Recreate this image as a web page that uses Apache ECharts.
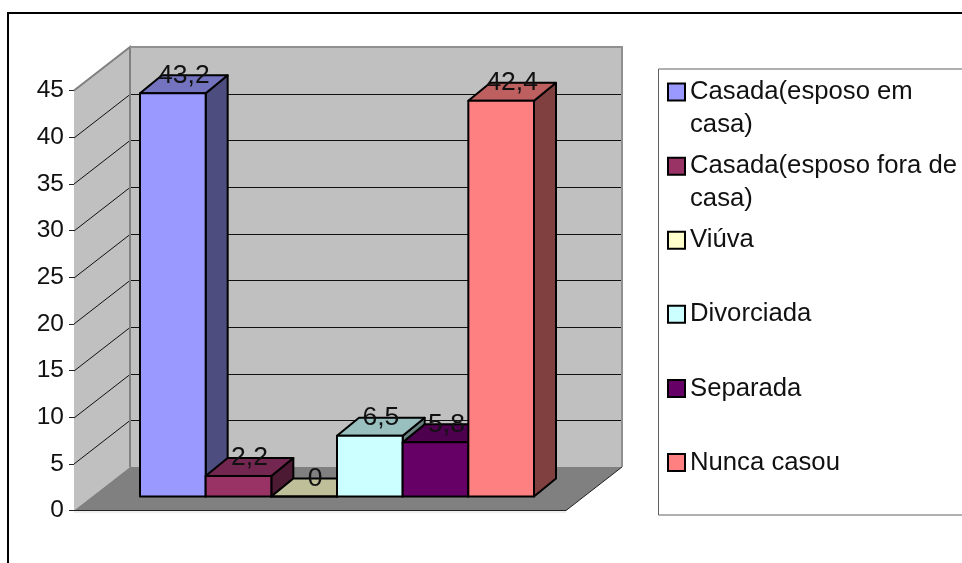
<!DOCTYPE html>
<html>
<head>
<meta charset="utf-8">
<style>
  html, body { margin: 0; padding: 0; background: #fff; }
  #chart { width: 962px; height: 563px; }
</style>
<script src="https://cdn.jsdelivr.net/npm/echarts@6/dist/echarts.min.js"></script>
</head>
<body>
<div id="chart"></div>
<script>
const categories = [
  'Casada(esposo em\ncasa)',
  'Casada(esposo fora de\ncasa)',
  'Viúva',
  'Divorciada',
  'Separada',
  'Nunca casou'
];
const values = [43.2, 2.2, 0, 6.5, 5.8, 42.4];
const colors = ['#9999FF', '#993366', '#FFFFCC', '#CCFFFF', '#660066', '#FF8080'];
const topColors = ['#7373BF', '#732650', '#BFBF99', '#99BFBF', '#4D004D', '#BF6060'];
const sideColors = ['#4D4D80', '#4D1A33', '#808066', '#668080', '#330033', '#804040'];
const yTicks = [5, 10, 15, 20, 25, 30, 35, 40];

const FONT = '"Liberation Sans", Arial, sans-serif';

// fake 3d, all offsets are in px
const WALL_DX = 56, WALL_DY = -43.5;
const BAR_DX = 22, BAR_DY = -18;
const BASE_UP = 14;   // front of the bars sits this far above the floor edge
const AXIS_SHIFT = 66;
const FLOOR_RIGHT = 566;

const chart = echarts.init(document.getElementById('chart'), null, { renderer: 'canvas' });

function poly(points, fill, stroke, width) {
  return {
    type: 'polygon',
    shape: { points: points },
    style: { fill: fill, stroke: stroke || null, lineWidth: width || 0, lineJoin: 'round' }
  };
}

function line(points, stroke, width) {
  return {
    type: 'polyline',
    shape: { points: points },
    style: { fill: null, stroke: stroke, lineWidth: width }
  };
}

function renderWalls(params, api) {
  const y0 = api.coord([0, 0])[1];
  const y45 = api.coord([0, 45])[1];
  const xl = params.coordSys.x - AXIS_SHIFT;
  const xr = FLOOR_RIGHT;
  const children = [
    poly([[xl + WALL_DX, y45 + WALL_DY], [xr + WALL_DX, y45 + WALL_DY], [xr + WALL_DX, y0 + WALL_DY], [xl + WALL_DX, y0 + WALL_DY]], '#C0C0C0'),
    poly([[xl, y45], [xl + WALL_DX, y45 + WALL_DY], [xl + WALL_DX, y0 + WALL_DY], [xl, y0]], '#C0C0C0'),
    poly([[xl, y0], [xr, y0], [xr + WALL_DX, y0 + WALL_DY], [xl + WALL_DX, y0 + WALL_DY]], '#808080')
  ];
  yTicks.forEach(function (t) {
    const y = Math.round(api.coord([0, t])[1] + WALL_DY) + 0.5;
    children.push(line([[xl, y - WALL_DY], [xl + WALL_DX, y], [xr + WALL_DX, y]], '#111', 1));
  });
  // wall outlines go over the grid lines
  children.push(line([[xl, y45], [xl + WALL_DX, y45 + WALL_DY], [xl + WALL_DX, y0 + WALL_DY]], '#808080', 2));
  children.push(line([[xl + WALL_DX, y45 + WALL_DY], [xr + WALL_DX, y45 + WALL_DY], [xr + WALL_DX, y0 + WALL_DY]], '#909090', 2));
  children.push(line([[xl, y0 + 1.5], [xr, y0 + 1.5]], '#DDD', 1));
  children.push(line([[xl, y0], [xr, y0], [xr + WALL_DX, y0 + WALL_DY]], '#222', 1));
  return { type: 'group', children: children };
}

function makeBarRender(idx) {
  return function (params, api) {
    const i = api.value(0);
    const v = api.value(1);
    const c = api.coord([i, v]);
    const base = api.coord([i, 0]);
    const w = api.size([1, 0])[0];
    const x0 = c[0] - w / 2, x1 = c[0] + w / 2;
    const yt = c[1] - BASE_UP, yb = base[1] - BASE_UP;
    return {
      type: 'group',
      children: [
        poly([[x1, yt], [x1 + BAR_DX, yt + BAR_DY], [x1 + BAR_DX, yb + BAR_DY], [x1, yb]], sideColors[idx], '#000', 2),
        poly([[x0, yt], [x0 + BAR_DX, yt + BAR_DY], [x1 + BAR_DX, yt + BAR_DY], [x1, yt]], topColors[idx], '#000', 2),
        poly([[x0, yt], [x1, yt], [x1, yb], [x0, yb]], colors[idx], '#000', 2),
        {
          type: 'text',
          z2: 100,
          style: {
            text: String(v).replace('.', ','),
            x: c[0] + 11,
            y: yt - 18,
            align: 'center',
            verticalAlign: 'middle',
            fontFamily: FONT,
            fontSize: 26.5,
            fill: '#111'
          }
        }
      ]
    };
  };
}

const barSeries = categories.map(function (name, i) {
  return {
    type: 'custom',
    name: name,
    z: 3,
    renderItem: makeBarRender(i),
    encode: { x: 0, y: 1 },
    itemStyle: { color: colors[i] },
    data: [[i, values[i]]]
  };
});

const option = {
  animation: false,
  backgroundColor: '#fff',
  grid: { left: 140, width: 394, top: 90.5, height: 420 },
  xAxis: { type: 'category', data: categories, show: false },
  yAxis: {
    type: 'value',
    min: 0,
    max: 45,
    interval: 5,
    offset: AXIS_SHIFT,
    axisLine: { show: true, lineStyle: { color: '#333', width: 1 } },
    axisTick: { show: true, length: 5, lineStyle: { color: '#222', width: 1 } },
    axisLabel: { margin: 10, color: '#111', fontFamily: FONT, fontSize: 24.5 },
    splitLine: { show: false }
  },
  legend: {
    orient: 'vertical',
    left: 667,
    top: 43,
    padding: 0,
    itemWidth: 17,
    itemHeight: 17,
    itemGap: -24,
    selectedMode: false,
    // blank line in front so the marker lines up with the first text line
    formatter: function (name) {
      return '\n' + name + (name.indexOf('\n') < 0 ? '\n' : '');
    },
    textStyle: { color: '#111', fontFamily: FONT, fontSize: 25.7, lineHeight: 32.7 },
    data: categories.map(function (name, i) {
      return { name: name, icon: 'rect', itemStyle: { color: colors[i], borderColor: '#000', borderWidth: 2 } };
    })
  },
  graphic: [
    {
      type: 'polyline',
      shape: { points: [[8, 563], [8, 13], [962, 13]] },
      style: { fill: null, stroke: '#000', lineWidth: 2 }
    },
    {
      type: 'polyline',
      shape: { points: [[962, 69], [658.5, 69], [658.5, 515], [962, 515]] },
      style: { fill: null, stroke: '#606060', lineWidth: 1 }
    }
  ],
  series: [{
    type: 'custom',
    name: 'walls',
    z: 1,
    renderItem: renderWalls,
    encode: { x: 0, y: 1 },
    data: [[0, 0]]
  }].concat(barSeries)
};

chart.setOption(option);
</script>
</body>
</html>
